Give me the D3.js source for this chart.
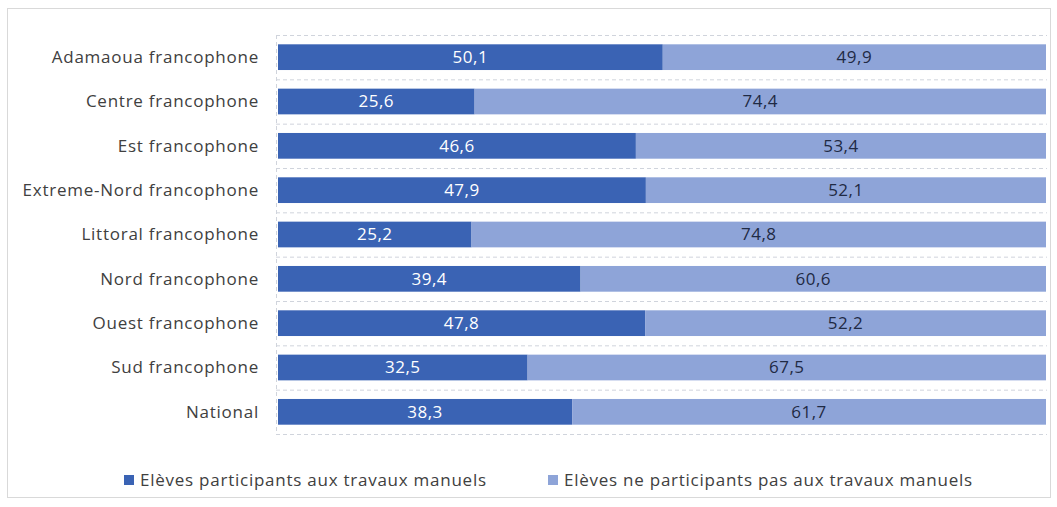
<!DOCTYPE html>
<html>
<head>
  <meta charset="utf-8">
  <title>Travaux manuels</title>
  <script src="https://d3js.org/d3.v7.min.js"></script>
  <style>
    body { margin: 0; background: #fff; font-family: "Open Sans", "Noto Sans", sans-serif; }
    .lbl { fill: #404040; font-size: 17px; letter-spacing: 0.75px; }
    .val { font-size: 17px; letter-spacing: 0.5px; }
  </style>
</head>
<body>
  <svg width="1057" height="507"></svg>
  <script>
    const categories = ["Adamaoua francophone", "Centre francophone", "Est francophone",
      "Extreme-Nord francophone", "Littoral francophone", "Nord francophone",
      "Ouest francophone", "Sud francophone", "National"];
    const participants = [50.1, 25.6, 46.6, 47.9, 25.2, 39.4, 47.8, 32.5, 38.3];
    const nonParticipants = [49.9, 74.4, 53.4, 52.1, 74.8, 60.6, 52.2, 67.5, 61.7];
    const seriesNames = ["Elèves participants aux travaux manuels", "Elèves ne participants pas aux travaux manuels"];
    const colors = ["#3a63b4", "#8ea4d8"];

    const svg = d3.select("svg");
    svg.append("rect").attr("x", 7.5).attr("y", 8.5).attr("width", 1043).attr("height", 489)
      .attr("fill", "#fff").attr("stroke", "#d9d9d9");

    const mLeft = 278, mRight = 1046, mTop = 35, mBottom = 434;
    const x = d3.scaleLinear().domain([0, 100]).range([mLeft, mRight]);
    const y = d3.scaleBand().domain(categories).range([mTop, mBottom]).paddingInner(0.42).paddingOuter(0.21);

    // dashed gridlines between categories
    const gridYs = d3.range(categories.length + 1).map(i => mTop + i * (mBottom - mTop) / categories.length);
    svg.append("g").selectAll("line").data(gridYs).join("line")
      .attr("x1", mLeft - 2).attr("x2", mRight + 1)
      .attr("y1", d => d + 0.5).attr("y2", d => d + 0.5)
      .attr("stroke", "#d0d4dc").attr("stroke-dasharray", "4,3");
    svg.append("line").attr("x1", mLeft - 1.5).attr("x2", mLeft - 1.5).attr("y1", mTop).attr("y2", mBottom)
      .attr("stroke", "#d0d4dc").attr("stroke-dasharray", "4,3");

    const rows = categories.map((c, i) => ({ c, a: participants[i], b: nonParticipants[i] }));

    const g = svg.append("g");
    g.selectAll(".a").data(rows).join("rect")
      .attr("x", x(0)).attr("y", d => y(d.c))
      .attr("width", d => x(d.a) - x(0)).attr("height", y.bandwidth())
      .attr("fill", colors[0]);
    g.selectAll(".b").data(rows).join("rect")
      .attr("x", d => x(d.a)).attr("y", d => y(d.c))
      .attr("width", d => x(d.a + d.b) - x(d.a)).attr("height", y.bandwidth())
      .attr("fill", colors[1]);

    const fmt = v => v.toFixed(1).replace(".", ",");
    g.selectAll(".ta").data(rows).join("text")
      .attr("class", "val")
      .attr("x", d => x(d.a / 2)).attr("y", d => y(d.c) + y.bandwidth() / 2)
      .attr("text-anchor", "middle").attr("dy", "0.35em")
      .attr("fill", "#fff")
      .text(d => fmt(d.a));
    g.selectAll(".tb").data(rows).join("text")
      .attr("class", "val")
      .attr("x", d => x(d.a + d.b / 2)).attr("y", d => y(d.c) + y.bandwidth() / 2)
      .attr("text-anchor", "middle").attr("dy", "0.35em")
      .attr("fill", "#1f2a44")
      .text(d => fmt(d.b));

    svg.append("g").selectAll("text").data(categories).join("text")
      .attr("class", "lbl")
      .attr("x", mLeft - 19).attr("y", d => y(d) + y.bandwidth() / 2)
      .attr("text-anchor", "end").attr("dy", "0.35em")
      .text(d => d);

    // legend
    const legX = [124, 548];
    const leg = svg.append("g").selectAll("g").data(seriesNames).join("g")
      .attr("transform", (d, i) => `translate(${legX[i]},480)`);
    leg.append("rect").attr("x", 0).attr("y", -5).attr("width", 10).attr("height", 10)
      .attr("fill", (d, i) => colors[i]);
    leg.append("text").attr("class", "lbl").attr("x", 16).attr("dy", "0.35em").text(d => d);
  </script>
</body>
</html>
